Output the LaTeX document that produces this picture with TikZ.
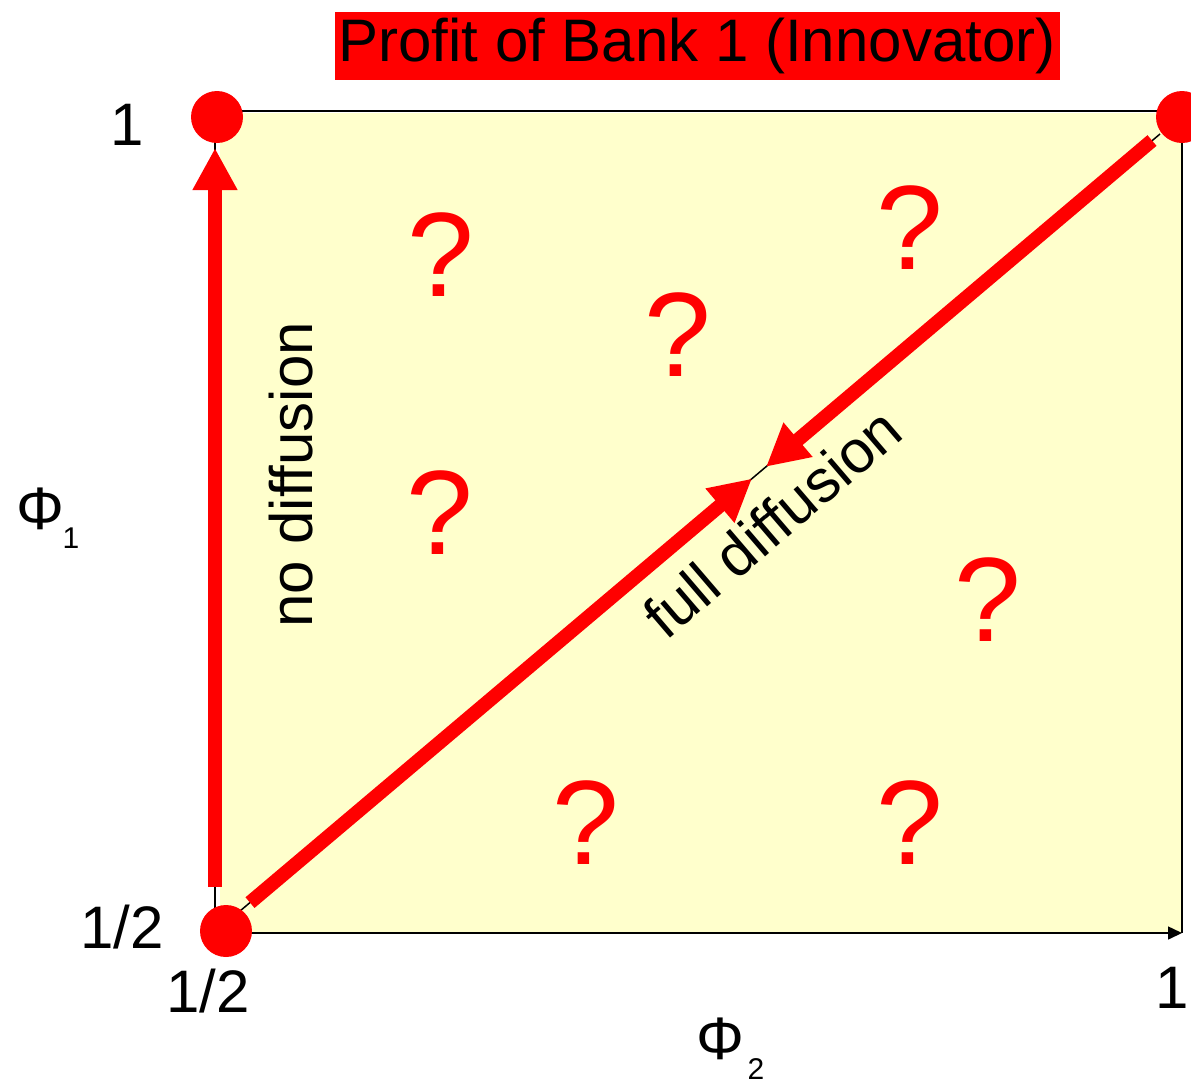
\documentclass[tikz,border=0pt]{standalone}
\usepackage{fontspec}
\setmainfont{Liberation Sans}
\usetikzlibrary{arrows.meta}
\definecolor{paleyellow}{HTML}{FFFFCC}
\begin{document}
\begin{tikzpicture}[x=1pt,y=-1pt,
  dot/.style={circle,fill=red,inner sep=0pt,minimum size=52pt},
  bigq/.style={text=red,font=\fontsize{120}{130}\selectfont,inner sep=0pt},
  lab/.style={font=\fontsize{60}{70}\selectfont,inner sep=0pt,anchor=base},
  sublab/.style={font=\fontsize{30}{34}\selectfont,inner sep=0pt,anchor=base},
  redarrow/.style={draw=red,line width=14pt,-{Triangle[length=42pt,width=42pt]}},
  axisline/.style={draw=black,line width=1.5pt}]
\useasboundingbox (0,0) rectangle (1191,1082);
% plot area
\fill[paleyellow] (220,113) rectangle (1182,933);
\coordinate (O) at (215,933);
\coordinate (xend) at (1182,933);
\coordinate (ytop) at (215,111);
\coordinate (tr) at (1182,111);
\draw[axisline,-{Triangle[length=14pt,width=13pt]}] (O) -- (xend);
\draw[axisline] (O) -- (ytop) -- (tr) -- (xend);
% diagonal
\coordinate (dA) at (240,911);
\coordinate (dB) at (1160,134);
\draw[axisline] (dA) -- (dB);
% red arrows
\coordinate (vs) at (215,887);
\coordinate (vt) at (215,148);
\draw[redarrow] (vs) -- (vt);
\coordinate (d1s) at (250,902.6);
\coordinate (d1t) at (752,478.6);
\draw[redarrow] (d1s) -- (d1t);
\coordinate (d2s) at (1152,140.5);
\coordinate (d2t) at (766,466.8);
\draw[redarrow] (d2s) -- (d2t);
% corner dots
\node[dot] (c1) at (217,117) {};
\node[dot] (c2) at (1182,117) {};
\node[dot] (c3) at (226,931) {};
% title
\node[fill=red,minimum width=725pt,minimum height=68pt,inner sep=0pt,
      font=\fontsize{60}{70}\selectfont] (title) at (697,46) {Profit of Bank 1 (Innovator)};
% axis labels
\node[lab] (one1) at (127,145) {1};
\node[lab] (half1) at (122,948) {1/2};
\node[lab] (half2) at (208,1012) {1/2};
\node[lab] (one2) at (1172,1008) {1};
\node[lab] (phi1) at (40,529) {Φ};
\node[sublab] (phi1sub) at (71,548) {1};
\node[lab] (phi2) at (720,1059) {Φ};
\node[sublab] (phi2sub) at (756,1079) {2};
% region labels
\node[lab,rotate=90] (nodiff) at (312,475) {no diffusion};
\node[lab,rotate=40.6] (fulldiff) at (786,539) {full diffusion};
% question marks
\node[bigq] (q1) at (441,255) {?};
\node[bigq] (q2) at (678,335) {?};
\node[bigq] (q3) at (910,228) {?};
\node[bigq] (q4) at (440,513) {?};
\node[bigq] (q5) at (988,600) {?};
\node[bigq] (q6) at (586,823) {?};
\node[bigq] (q7) at (910,823) {?};
\end{tikzpicture}
\end{document}
